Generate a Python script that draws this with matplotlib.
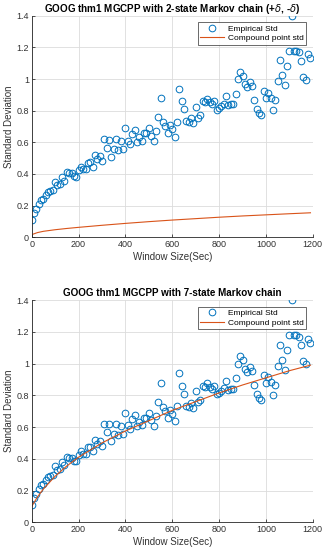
import numpy as np
import matplotlib
matplotlib.use("Agg")
import matplotlib.pyplot as plt
from matplotlib.ticker import FuncFormatter

# window sizes (sec) and empirical std
window = np.arange(0, 1200, 10)
emp_std = [
    0.107, 0.152, 0.179, 0.210, 0.236, 0.242, 0.267, 0.284, 0.293, 0.297,
    0.352, 0.330, 0.335, 0.379, 0.358, 0.413, 0.408, 0.404, 0.387, 0.383,
    0.425, 0.446, 0.429, 0.429, 0.472, 0.474, 0.446, 0.520, 0.493, 0.514,
    0.480, 0.621, 0.566, 0.617, 0.509, 0.558, 0.621, 0.552, 0.608, 0.558,
    0.690, 0.610, 0.587, 0.650, 0.678, 0.604, 0.632, 0.610, 0.657, 0.657,
    0.690, 0.642, 0.606, 0.672, 0.758, 0.877, 0.728, 0.700, 0.660, 0.710,
    0.682, 0.635, 0.730, 0.938, 0.860, 0.808, 0.732, 0.728, 0.753, 0.721,
    0.825, 0.755, 0.770, 0.860, 0.855, 0.875, 0.855, 0.840, 0.860, 0.806,
    0.817, 0.830, 0.845, 0.890, 0.835, 0.840, 0.840, 0.906, 1.000, 1.047,
    1.020, 0.966, 0.950, 0.980, 0.955, 0.865, 0.810, 0.785, 0.770, 0.925,
    0.877, 0.913, 0.883, 0.805, 0.868, 0.985, 1.120, 1.023, 0.960, 1.083,
    1.177, 1.400, 1.177, 1.180, 1.170, 1.115, 1.015, 0.995, 1.155, 1.130,
]

# compound point std curves
line_x = [0, 25, 50, 100, 150, 200, 300, 400, 500, 600, 700, 800, 900, 1000, 1100, 1190]
std_2state = [0.017, 0.030, 0.038, 0.048, 0.056, 0.063, 0.076, 0.088, 0.099, 0.109,
              0.118, 0.127, 0.135, 0.142, 0.149, 0.155]
std_7state = [0.100, 0.160, 0.210, 0.290, 0.355, 0.410, 0.500, 0.575, 0.640, 0.705,
              0.760, 0.815, 0.865, 0.910, 0.955, 0.990]

titles = [r"GOOG thm1 MGCPP with 2-state Markov chain (+$\delta$, -$\delta$)",
          "GOOG thm1 MGCPP with 7-state Markov chain"]

plt.rcParams['font.family'] = ['Liberation Sans', 'DejaVu Sans']
plt.rcParams['mathtext.fontset'] = 'dejavusans'

fig = plt.figure(figsize=(3.25, 5.5), dpi=100)
axes = [fig.add_axes([0.0975, 0.5685, 0.865, 0.403]),
        fig.add_axes([0.0975, 0.0504, 0.865, 0.404])]

def fmt(v, pos):
    return ('%g' % round(v, 2))

for ax, curve, title in zip(axes, [std_2state, std_7state], titles):
    ax.plot(window, emp_std, 'o', mfc='none', mec='#0072BD', ms=4.8, mew=0.7,
            label='Empirical Std')
    ax.plot(line_x, curve, '-', color='#D95319', lw=0.8, label='Compound point std')
    ax.set_xlim(0, 1200)
    ax.set_ylim(0, 1.4)
    ax.set_xticks(np.arange(0, 1201, 200))
    ax.set_yticks(np.arange(0, 1.41, 0.2))
    ax.yaxis.set_major_formatter(FuncFormatter(fmt))
    ax.grid(True, color='#dcdcdc', lw=0.6)
    ax.set_axisbelow(True)
    for s in ['top', 'right']:
        ax.spines[s].set_visible(False)
    for s in ['left', 'bottom']:
        ax.spines[s].set_color('#262626')
        ax.spines[s].set_linewidth(0.6)
    ax.tick_params(direction='in', length=2.5, width=0.6, labelsize=6.5,
                   colors='#333333', pad=2)
    ax.set_xlabel('Window Size(Sec)', fontsize=7, color='#333333', labelpad=2)
    ax.set_ylabel('Standard Deviation', fontsize=7, color='#333333', labelpad=2)
    ax.set_title(title, fontsize=7.1, fontweight='bold', pad=3)
    leg = ax.legend(loc='upper right', fontsize=6, frameon=True, fancybox=False,
                    borderpad=0.3, labelspacing=0.2, handlelength=2.8,
                    borderaxespad=0.8, handletextpad=0.5)
    leg.get_frame().set_edgecolor('#262626')
    leg.get_frame().set_linewidth(0.6)

fig.savefig('out.png', dpi=100)
